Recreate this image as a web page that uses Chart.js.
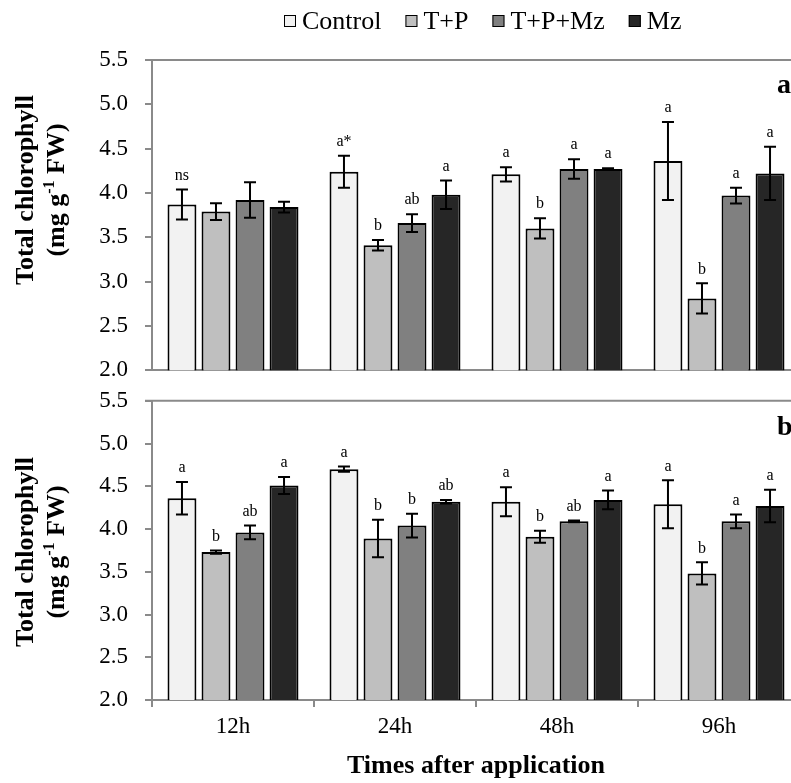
<!DOCTYPE html>
<html>
<head>
<meta charset="utf-8">
<script src="https://cdn.jsdelivr.net/npm/chart.js@4.4.0/dist/chart.umd.min.js"></script>
<style>
  html, body { margin: 0; padding: 0; background: #fff; overflow: hidden; }
  #wrap { position: relative; width: 791px; height: 783px; overflow: hidden; }
  #chartA { position: absolute; left: 0; top: 0; }
  #chartB { position: absolute; left: 0; top: 370px; }
</style>
</head>
<body>
<div id="wrap">
  <canvas id="chartA" width="810" height="401"></canvas>
  <canvas id="chartB" width="810" height="413"></canvas>
</div>
<script>
const times = ['12h', '24h', '48h', '96h'];
const treatments = ['Control', 'T+P', 'T+P+Mz', 'Mz'];
const colors = ['#f2f2f2', '#bfbfbf', '#808080', '#262626'];

// panel a
const controlA = [3.87, 4.24, 4.21, 4.36];
const tpA = [3.79, 3.41, 3.60, 2.81];
const tpmzA = [3.92, 3.66, 4.27, 3.97];
const mzA = [3.84, 3.98, 4.27, 4.22];
const controlErrA = [0.17, 0.18, 0.08, 0.44];
const tpErrA = [0.095, 0.06, 0.115, 0.17];
const tpmzErrA = [0.2, 0.1, 0.11, 0.09];
const mzErrA = [0.06, 0.16, 0.01, 0.3];
const controlLetA = ['ns', 'a*', 'a', 'a'];
const tpLetA = ['', 'b', 'b', 'b'];
const tpmzLetA = ['', 'ab', 'a', 'a'];
const mzLetA = ['', 'a', 'a', 'a'];

// panel b
const controlB = [4.36, 4.70, 4.32, 4.29];
const tpB = [3.73, 3.89, 3.91, 3.48];
const tpmzB = [3.96, 4.04, 4.09, 4.09];
const mzB = [4.51, 4.32, 4.34, 4.27];
const controlErrB = [0.19, 0.03, 0.17, 0.28];
const tpErrB = [0.02, 0.22, 0.07, 0.13];
const tpmzErrB = [0.08, 0.14, 0.01, 0.08];
const mzErrB = [0.1, 0.02, 0.11, 0.19];
const controlLetB = ['a', 'a', 'a', 'a'];
const tpLetB = ['b', 'b', 'b', 'b'];
const tpmzLetB = ['ab', 'b', 'ab', 'a'];
const mzLetB = ['a', 'ab', 'a', 'a'];

const serif = '"Liberation Serif", "Times New Roman", serif';
const gray = '#8a8a8a';

function makeDatasets(values, errors, letters) {
    return treatments.map((name, i) => ({
        label: name,
        data: values[i],
        errors: errors[i],
        letters: letters[i],
        backgroundColor: colors[i],
        borderColor: '#000',
        borderWidth: 2,
        borderSkipped: false,
        barPercentage: 0.85,
        categoryPercentage: 0.84
    }));
}

// Error bars and significance letters
const errorBars = {
    id: 'errorBars',
    afterDatasetsDraw(chart) {
        const ctx = chart.ctx;
        const y = chart.scales.y;
        chart.data.datasets.forEach((ds, i) => {
            chart.getDatasetMeta(i).data.forEach((bar, j) => {
                const v = ds.data[j], e = ds.errors[j];
                const yt = y.getPixelForValue(v + e);
                const yb = y.getPixelForValue(v - e);
                ctx.save();
                ctx.strokeStyle = '#000';
                ctx.lineWidth = 2;
                ctx.beginPath();
                ctx.moveTo(bar.x, yt); ctx.lineTo(bar.x, yb);
                ctx.moveTo(bar.x - 6, yt); ctx.lineTo(bar.x + 6, yt);
                ctx.moveTo(bar.x - 6, yb); ctx.lineTo(bar.x + 6, yb);
                ctx.stroke();
                if (ds.letters[j]) {
                    ctx.fillStyle = '#000';
                    ctx.font = '16px ' + serif;
                    ctx.textAlign = 'center';
                    ctx.textBaseline = 'middle';
                    ctx.fillText(ds.letters[j], bar.x, yt - 14);
                }
                ctx.restore();
            });
        });
    }
};

// Frame line, axis titles, panel letter, legend
const decor = {
    id: 'decor',
    afterDraw(chart, args, opts) {
        const ctx = chart.ctx;
        const area = chart.chartArea;
        ctx.save();
        ctx.strokeStyle = gray;
        ctx.lineWidth = 2;
        ctx.beginPath();
        ctx.moveTo(area.left - 7, area.top);
        ctx.lineTo(chart.width, area.top);
        ctx.stroke();

        // y title
        ctx.fillStyle = '#000';
        ctx.translate(0, opts.titleY);
        ctx.rotate(-Math.PI / 2);
        ctx.textBaseline = 'alphabetic';
        ctx.textAlign = 'center';
        ctx.font = 'bold 26px ' + serif;
        ctx.fillText('Total chlorophyll', 0, 33);
        const p1 = '(mg g', p2 = '-1', p3 = ' FW)';
        const w1 = ctx.measureText(p1).width, w3 = ctx.measureText(p3).width;
        ctx.font = 'bold 16px ' + serif;
        const w2 = ctx.measureText(p2).width;
        let x0 = -(w1 + w2 + w3) / 2;
        ctx.textAlign = 'left';
        ctx.font = 'bold 26px ' + serif;
        ctx.fillText(p1, x0, 64);
        ctx.font = 'bold 16px ' + serif;
        ctx.fillText(p2, x0 + w1, 54);
        ctx.font = 'bold 26px ' + serif;
        ctx.fillText(p3, x0 + w1 + w2, 64);
        ctx.restore();

        ctx.save();
        ctx.fillStyle = '#000';
        ctx.font = 'bold 28px ' + serif;
        ctx.textAlign = 'left';
        ctx.textBaseline = 'alphabetic';
        ctx.fillText(opts.panel, 777, opts.panelY);

        if (opts.xTitle) {
            ctx.font = 'bold 26px ' + serif;
            ctx.textAlign = 'center';
            ctx.textBaseline = 'middle';
            ctx.fillText(opts.xTitle, (area.left + area.right) / 2, opts.xTitleY);
        }

        if (opts.legend) {
            ctx.font = '26px ' + serif;
            const box = 12, gap = 6, space = 24;
            const widths = treatments.map(t => ctx.measureText(t).width);
            let x = 284;
            const cy = 21;
            ctx.textAlign = 'left';
            ctx.textBaseline = 'middle';
            treatments.forEach((t, i) => {
                ctx.fillStyle = colors[i];
                ctx.fillRect(x, cy - box / 2, box, box);
                ctx.strokeStyle = '#000';
                ctx.lineWidth = 1;
                ctx.strokeRect(x + 0.5, cy - box / 2 + 0.5, box - 1, box - 1);
                ctx.fillStyle = '#000';
                ctx.fillText(t, x + box + gap, cy + 1);
                x += box + gap + widths[i] + space;
            });
        }
        ctx.restore();
    }
};

function yScale() {
    return {
        min: 2,
        max: 5.5,
        ticks: {
            stepSize: 0.5,
            callback: v => v.toFixed(1),
            font: { family: serif, size: 23 },
            color: '#000',
            padding: 17
        },
        grid: { drawOnChartArea: false, drawTicks: true, tickLength: 7, color: gray, lineWidth: 2 },
        border: { display: true, color: gray, width: 2 },
        afterFit(s) { s.width = 152; }
    };
}

new Chart(document.getElementById('chartA'), {
    type: 'bar',
    data: {
        labels: times,
        datasets: makeDatasets([controlA, tpA, tpmzA, mzA], [controlErrA, tpErrA, tpmzErrA, mzErrA], [controlLetA, tpLetA, tpmzLetA, mzLetA])
    },
    options: {
        responsive: false,
        animation: false,
        layout: { padding: { top: 60, right: 10, left: 0, bottom: 0 } },
        plugins: {
            legend: { display: false },
            tooltip: { enabled: false },
            decor: { titleY: 190, panel: 'a', panelY: 93, legend: true }
        },
        scales: {
            x: {
                ticks: { display: false },
                grid: { display: false },
                border: { display: true, color: gray, width: 2 },
                afterFit(s) { s.height = 10; }
            },
            y: yScale()
        }
    },
    plugins: [errorBars, decor]
});

new Chart(document.getElementById('chartB'), {
    type: 'bar',
    data: {
        labels: times,
        datasets: makeDatasets([controlB, tpB, tpmzB, mzB], [controlErrB, tpErrB, tpmzErrB, mzErrB], [controlLetB, tpLetB, tpmzLetB, mzLetB])
    },
    options: {
        responsive: false,
        animation: false,
        layout: { padding: { top: 20, right: 10, left: 0, bottom: 0 } },
        plugins: {
            legend: { display: false },
            tooltip: { enabled: false },
            decor: { titleY: 182, panel: 'b', panelY: 65, xTitle: 'Times after application', xTitleY: 396 }
        },
        scales: {
            x: {
                ticks: { font: { family: serif, size: 23 }, color: '#000', padding: 6 },
                grid: { display: true, drawOnChartArea: false, drawTicks: true, tickLength: 7, color: gray, lineWidth: 2 },
                border: { display: true, color: gray, width: 2 },
                afterFit(s) { s.height = 83; }
            },
            y: yScale()
        }
    },
    plugins: [errorBars, decor]
});
</script>
</body>
</html>
